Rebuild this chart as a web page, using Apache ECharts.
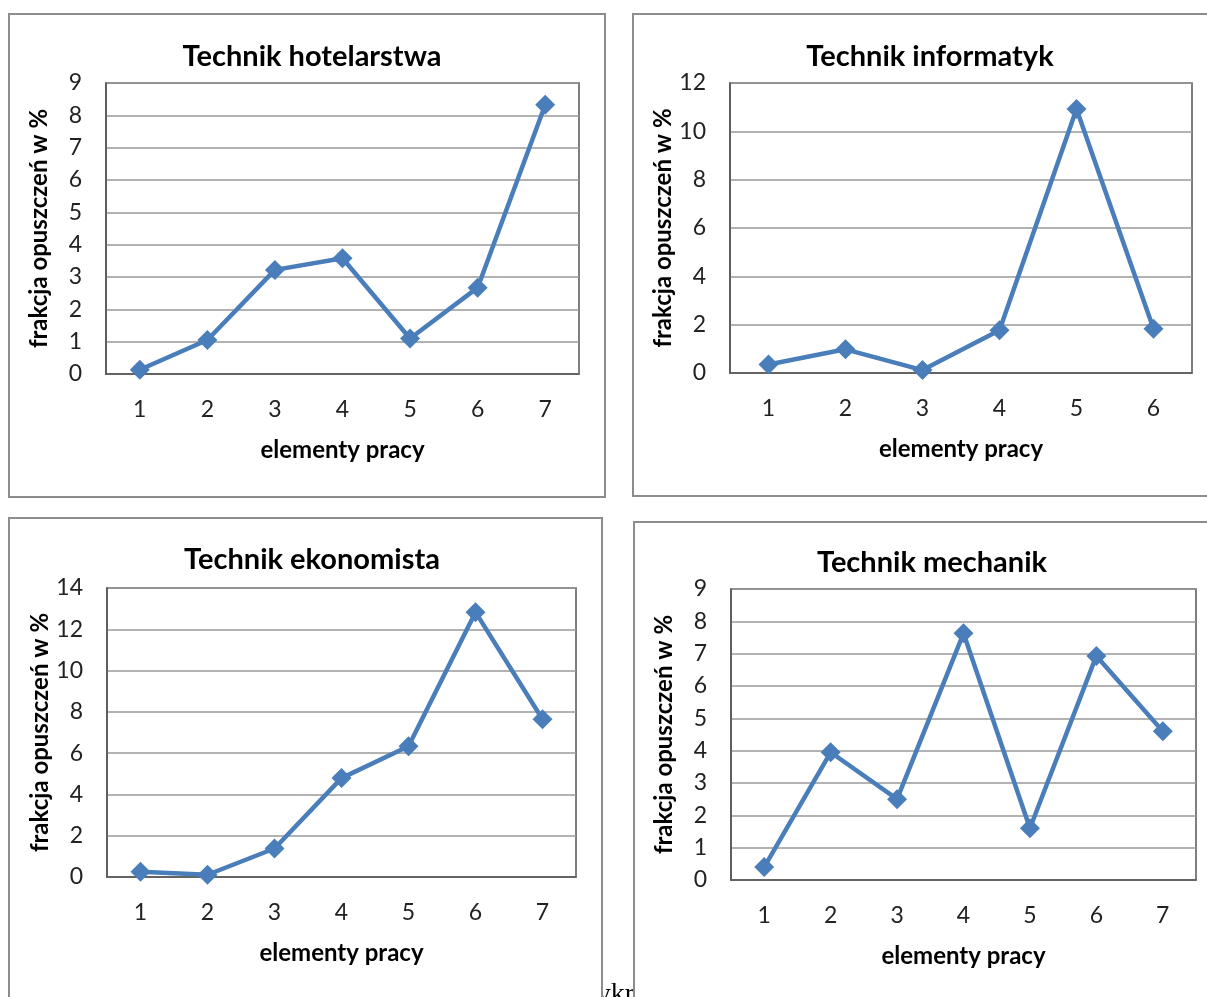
<!DOCTYPE html>
<html><head><meta charset="utf-8">
<script src="https://cdn.jsdelivr.net/npm/echarts@6/dist/echarts.min.js"></script>
<style>html,body{margin:0;padding:0;background:#fff}#c{width:1207px;height:997px}</style>
</head><body><div id="c"></div>
<script>
const titles = ['Technik hotelarstwa','Technik informatyk','Technik ekonomista','Technik mechanik'];
const cats7 = ['1','2','3','4','5','6','7'];
const cats6 = ['1','2','3','4','5','6'];
const hotelarstwa = [0.13, 1.05, 3.22, 3.58, 1.1, 2.67, 8.33];
const informatyk = [0.35, 0.98, 0.12, 1.77, 10.92, 1.83];
const ekonomista = [0.26, 0.11, 1.38, 4.79, 6.33, 12.83, 7.64];
const mechanik = [0.4, 3.95, 2.5, 7.63, 1.6, 6.93, 4.6];
const yMax = [9, 12, 14, 9];
const yStep = [1, 2, 2, 1];
const xName = 'elementy pracy';
const yName = 'frakcja opuszczeń w %';

const series = [hotelarstwa, informatyk, ekonomista, mechanik];
const catsList = [cats7, cats6, cats7, cats7];
const grids = [
  {left:106, top:83, width:473, height:291},
  {left:730, top:83, width:462, height:290},
  {left:107, top:588, width:469, height:289},
  {left:731, top:589, width:465, height:291}
];
const frames = [
  {x:9, y:14, w:596, h:483, tx:307, ty:55},
  {x:633, y:14, w:590, h:482, tx:925, ty:55},
  {x:9, y:518, w:593, h:500, tx:307, ty:558},
  {x:634, y:522, w:590, h:500, tx:927, ty:561}
];
const blue = '#4A7EBB';
const font = 'Lato, "Open Sans", sans-serif';

const chart = echarts.init(document.getElementById('c'), null, {renderer:'canvas'});
const graphic = [];
graphic.push({type:'text', z:-10, left:572, top:981, style:{text:'Wykres', font:'28px "Liberation Serif", serif', fill:'#000'}});
frames.forEach((f,i)=>{
  graphic.push({type:'rect', z:-5, shape:{x:f.x, y:f.y, width:f.w, height:f.h}, style:{fill:'#fff', stroke:'#8c8c8c', lineWidth:2}});
});
const option = {
  animation:false,
  backgroundColor:'#fff',
  graphic: graphic,
  title: titles.map((t,i)=>({text:t, left:frames[i].tx, top:frames[i].ty-18, textAlign:'center',
    textStyle:{fontFamily:font, fontSize:29, fontWeight:'bold', color:'#000'}})),
  grid: grids.map(g=>Object.assign({show:true, borderColor:'#555', borderWidth:1.5, backgroundColor:'transparent'}, g)),
  xAxis: catsList.map((c,i)=>({type:'category', gridIndex:i, data:c, boundaryGap:true,
    name:xName, nameLocation:'middle', nameGap:64,
    nameTextStyle:{fontFamily:font, fontSize:24, fontWeight:'bold', color:'#000'},
    axisLine:{lineStyle:{color:'#555', width:1.5}}, axisTick:{show:false},
    axisLabel:{fontFamily:font, fontSize:23, color:'#222', margin:24}})),
  yAxis: yMax.map((m,i)=>({type:'value', gridIndex:i, min:0, max:m, interval:yStep[i],
    name:yName, nameLocation:'middle', nameRotate:90, nameGap:55,
    nameTextStyle:{fontFamily:font, fontSize:24, fontWeight:'bold', color:'#000'},
    axisLine:{show:true, lineStyle:{color:'#555', width:1.5}}, axisTick:{show:false},
    splitLine:{lineStyle:{color:'#999', width:1.5}},
    axisLabel:{fontFamily:font, fontSize:23, color:'#222', margin:24}})),
  series: series.map((d,i)=>({type:'line', xAxisIndex:i, yAxisIndex:i, data:d,
    symbol:'diamond', symbolSize:20, lineStyle:{color:blue, width:4.5},
    itemStyle:{color:blue}}))
};
chart.setOption(option);
</script></body></html>
